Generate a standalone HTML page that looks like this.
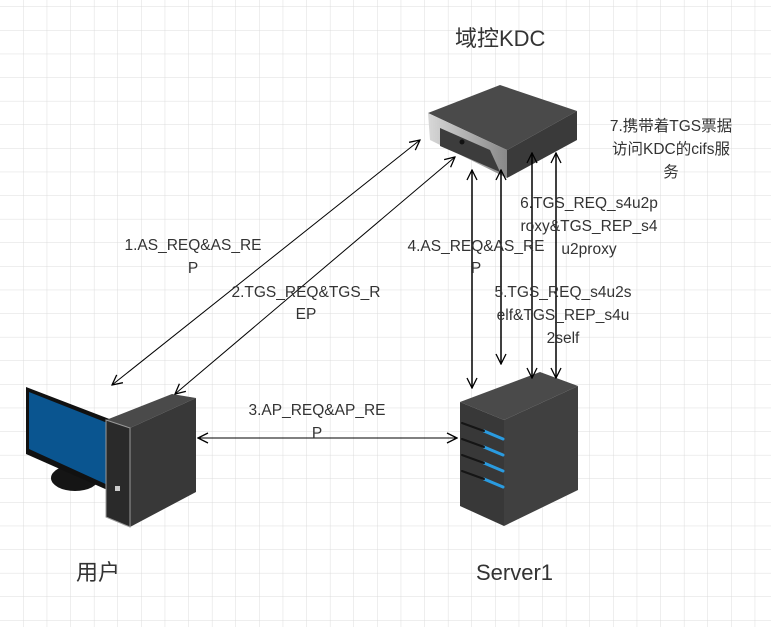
<!DOCTYPE html>
<html><head><meta charset="utf-8"><style>
html,body{margin:0;padding:0;background:#fff;}
svg{display:block;}
text{font-family:"Liberation Sans","Noto Sans CJK SC",sans-serif;fill:#333;}
</style></head><body>
<svg width="771" height="627" viewBox="0 0 771 627" xmlns="http://www.w3.org/2000/svg">
<defs>
<pattern id="g" x="0" y="7" width="23.6" height="23.6" patternUnits="userSpaceOnUse">
<path d="M23.6 0V23.6M0 23.6H23.6" stroke="#dcdcdc" stroke-width="1" fill="none"/>
</pattern>
<marker id="a" viewBox="0 0 12 12" refX="11" refY="6" markerWidth="12" markerHeight="12" markerUnits="userSpaceOnUse" orient="auto-start-reverse">
<path d="M1 1L11 6L1 11" fill="none" stroke="#000" stroke-width="1.3"/>
</marker>
<linearGradient id="sil" x1="0" x2="1"><stop offset="0" stop-color="#d8d8d8"/><stop offset="1" stop-color="#888"/></linearGradient>
</defs>
<rect width="771" height="627" fill="url(#g)"/>

<polygon points="428,113 500,85 577,111 507,150" fill="#4a4a4a"/>
<polygon points="577,111 507,150 507,178 577,140" fill="#3a3a3a"/>
<polygon points="428,113 507,150 507,178 430,140" fill="url(#sil)"/>
<polygon points="440,128 490,150 500,172 440,146" fill="#3c3c3c"/>
<circle cx="462" cy="142" r="2.5" fill="#111"/>

<polygon points="460,402 540,372 578,386 504,420" fill="#4a4a4a"/>
<polygon points="504,420 578,386 578,490 504,526" fill="#404040"/>
<polygon points="460,402 504,420 504,526 460,506" fill="#383838"/>
<g stroke-width="3" stroke-linecap="round">
<path d="M484 431L503 439M484 447L503 455M484 463L503 471M484 479L503 487" stroke="#2a9be0"/>
<path d="M462 423L484 431M462 439L484 447M462 455L484 463M462 471L484 479" stroke="#151515" stroke-width="2"/>
</g>

<ellipse cx="75" cy="478" rx="24" ry="13" fill="#151515"/>
<polygon points="26,387 112,420 112,492 26,454" fill="#111"/>
<polygon points="29,392 110,424 110,486 29,449" fill="#0a5590"/>
<polygon points="106,420 172,394 196,398 130,428" fill="#4a4a4a"/>
<polygon points="130,428 196,398 196,492 130,527" fill="#383838"/>
<polygon points="106,420 130,428 130,527 106,517" fill="#2a2a2a" stroke="#999" stroke-width="1"/>
<rect x="115" y="486" width="5" height="5" fill="#ccc"/>

<g stroke="#000" stroke-width="1" fill="none" marker-start="url(#a)" marker-end="url(#a)">
<line x1="112" y1="385" x2="420" y2="140"/>
<line x1="175" y1="394" x2="455" y2="157"/>
<line x1="198" y1="438" x2="457" y2="438"/>
</g>
<g stroke="#000" stroke-width="1.5" fill="none" marker-start="url(#a)" marker-end="url(#a)">
<line x1="472" y1="170" x2="472" y2="388"/>
<line x1="501" y1="170" x2="501" y2="364"/>
<line x1="532" y1="153" x2="532" y2="378"/>
<line x1="556" y1="153" x2="556" y2="378"/>
</g>

<text x="455" y="46" font-size="22">域控KDC</text>
<text x="76" y="580" font-size="22">用户</text>
<text x="476" y="580" font-size="22">Server1</text>
<g font-size="15.5" text-anchor="middle">
<text x="193" y="250">1.AS_REQ&amp;AS_RE</text><text x="193" y="273">P</text>
<text x="306" y="297">2.TGS_REQ&amp;TGS_R</text><text x="306" y="319">EP</text>
<text x="317" y="415">3.AP_REQ&amp;AP_RE</text><text x="317" y="438">P</text>
<text x="476" y="251">4.AS_REQ&amp;AS_RE</text><text x="476" y="273">P</text>
<text x="563" y="297">5.TGS_REQ_s4u2s</text><text x="563" y="320">elf&amp;TGS_REP_s4u</text><text x="563" y="343">2self</text>
<text x="589" y="208">6.TGS_REQ_s4u2p</text><text x="589" y="231">roxy&amp;TGS_REP_s4</text><text x="589" y="254">u2proxy</text>
<text x="671" y="131">7.携带着TGS票据</text><text x="671" y="154">访问KDC的cifs服</text><text x="671" y="177">务</text>
</g>
</svg>
</body></html>
